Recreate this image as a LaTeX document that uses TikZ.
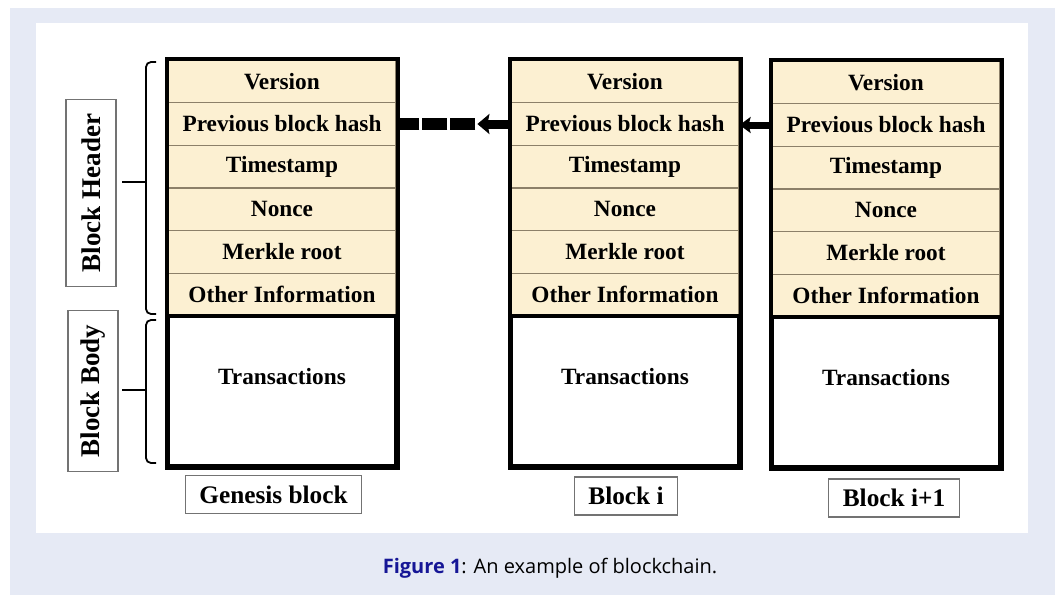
\documentclass[tikz,border=0pt]{standalone}
\usepackage{fontspec}
\setmainfont{Liberation Serif}
\newfontfamily\capfont{Open Sans}
\usepackage{tikz}
\usetikzlibrary{arrows.meta,positioning,calc}
\definecolor{panel}{RGB}{230,234,245}
\definecolor{headfill}{RGB}{252,240,210}
\definecolor{rowline}{RGB}{140,128,105}
\definecolor{capblue}{RGB}{22,22,150}
\tikzstyle{field}=[draw=rowline,line width=1.2pt,fill=headfill,minimum width=228pt,minimum height=42.67pt,inner sep=0pt,font=\fontsize{23.3}{25}\selectfont\bfseries]
\tikzstyle{body}=[draw,line width=4pt,fill=white,minimum width=228pt,minimum height=150pt,inner sep=0pt]
\tikzstyle{item}=[font=\fontsize{23.3}{25}\selectfont\bfseries]
\tikzstyle{tag}=[draw=black!55,line width=1.2pt,fill=white,inner xsep=14pt,minimum height=38pt,font=\fontsize{25.3}{27}\selectfont\bfseries]
\tikzstyle{side}=[tag,rotate=90,minimum height=50pt,font=\fontsize{27}{29}\selectfont\bfseries]
\tikzstyle{brace}=[line width=1.8pt,rounded corners=5pt]

\begin{document}
\begin{tikzpicture}[x=1pt,y=-1pt]
    \useasboundingbox (0,0) rectangle (1055,595);
    \fill[panel] (10,8) rectangle (1055,595);
    \fill[white] (36,23) rectangle (1028,533);

    \foreach \blk/\bx/\by in {g/282/60, b/625/60, c/886/61} {
      \foreach \t [count=\i] in {Version,Previous block hash,Timestamp,Nonce,Merkle root,Other Information} {
        \node [field] (\blk\i) at ({\bx},{\by+21.33+42.67*(\i-1)}) {\t};
      }
      \node [body] (\blk b) at ({\bx},{\by+331}) {};
      \node [item] (\blk t) at ([yshift=14pt]\blk b.center) {Transactions};
      \draw[line width=4pt] (\blk1.north west) rectangle (\blk b.south east);
    }

    \node [tag] (gl) at (273.5,494.5) {Genesis block};
    \node [tag] (bl) at (626,496) {Block i};
    \node [tag] (cl) at (894,498) {Block i+1};

    \node [side,minimum width=180pt] (hdr) at (91,193) {Block Header};
    \node [side,minimum width=158pt] (bdy) at (93,391) {Block Body};

    \draw[brace] (156,62) -- (146,62) -- (146,314) -- (156,314);
    \draw[line width=1.8pt] (122,182) -- (146,182);
    \draw[brace] (156,320) -- (146,320) -- (146,463) -- (156,463);
    \draw[line width=1.8pt] (122,390) -- (146,390);

    \coordinate (tip) at ([xshift=-33pt]b2.west);
    \draw[line width=9pt,-{Stealth[length=12pt,width=20pt,inset=2pt]}] (b2.west) -- (tip);
    \draw[line width=12pt,dash pattern=on 25pt off 3pt,dash phase=26pt] (tip) -- (g2.east);
    \draw[line width=7pt,-{Stealth[length=11pt,width=16pt,inset=2pt]}] (c2.west) -- (c2.west -| b2.east);

    \node [font=\capfont\fontsize{20}{24}\selectfont] (cap) at (550,568)
      {\textcolor{capblue}{\bfseries Figure 1}: An example of blockchain.};
\end{tikzpicture}
\end{document}
